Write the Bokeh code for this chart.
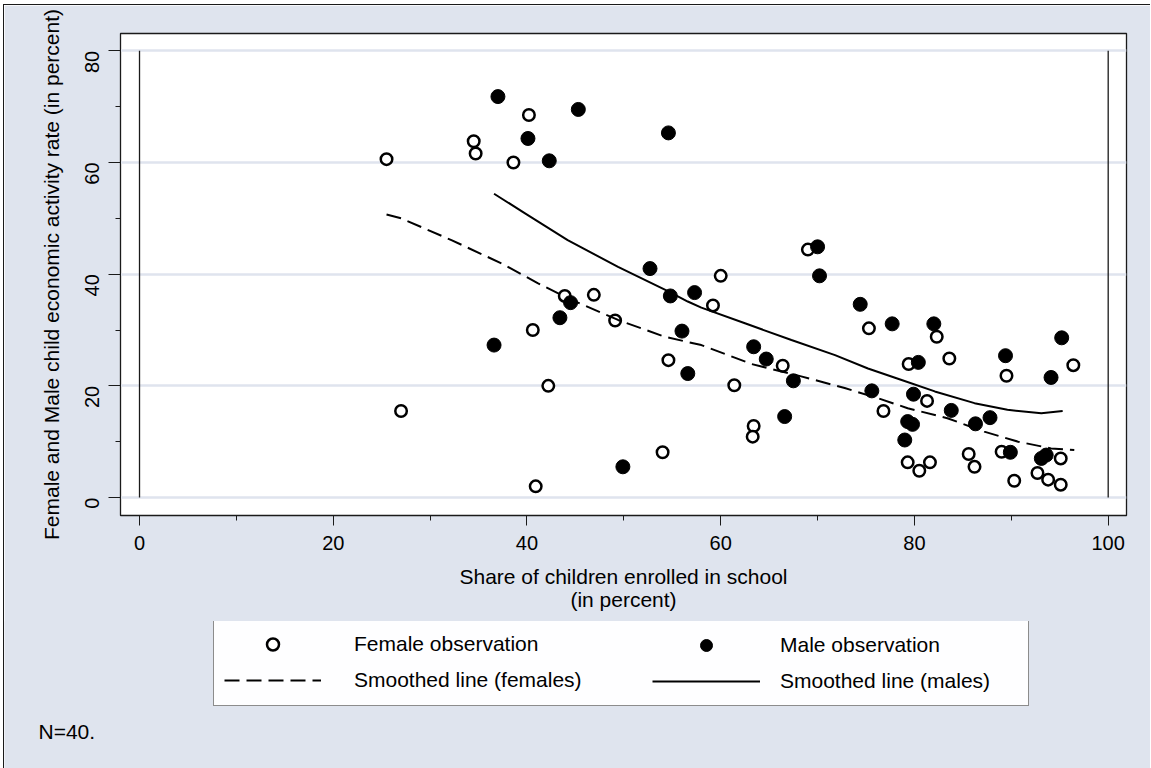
import math
from bokeh.plotting import figure
from bokeh.models import Range1d, FixedTicker, Legend, LegendItem, Label
from bokeh.embed import file_html
from bokeh.resources import INLINE

# ---- data ----
female_enrol = [25.5, 27.0, 34.5, 34.7, 38.6, 40.2, 40.6, 40.9, 42.2, 43.9,
                46.9, 49.1, 54.0, 54.6, 59.2, 60.0, 61.4, 63.4, 63.3, 66.4,
                69.0, 75.3, 76.8, 79.4, 79.3, 80.5, 81.3, 81.6, 82.3, 83.6,
                85.6, 86.2, 89.0, 89.5, 90.3, 92.7, 93.8, 95.1, 95.1, 96.4]
female_activity = [60.6, 15.5, 63.8, 61.6, 60.0, 68.5, 30.0, 2.0, 20.0, 36.1,
                   36.3, 31.7, 8.1, 24.6, 34.4, 39.7, 20.1, 12.8, 10.9, 23.6,
                   44.4, 30.3, 15.5, 23.9, 6.3, 4.8, 17.3, 6.3, 28.8, 24.9,
                   7.8, 5.5, 8.2, 21.8, 3.0, 4.4, 3.2, 2.3, 7.0, 23.7]

male_enrol = [36.6, 37.0, 40.1, 42.3, 43.4, 44.5, 45.3, 49.9, 52.7, 54.6,
              54.8, 56.0, 56.6, 57.3, 63.4, 64.7, 66.6, 67.5, 70.0, 70.2,
              74.4, 75.6, 77.7, 79.0, 79.3, 79.8, 79.9, 80.4, 82.0, 83.8,
              86.3, 87.8, 89.4, 89.9, 93.1, 93.6, 94.1, 95.2]
male_activity = [27.3, 71.8, 64.3, 60.3, 32.2, 34.9, 69.5, 5.5, 41.0, 65.3,
                 36.1, 29.8, 22.2, 36.7, 27.0, 24.8, 14.5, 20.9, 44.9, 39.7,
                 34.6, 19.1, 31.1, 10.3, 13.6, 13.1, 18.5, 24.2, 31.1, 15.6,
                 13.2, 14.3, 25.4, 8.1, 7.0, 7.6, 21.5, 28.6]

female_smooth_x = [25.5, 27.0, 32.2, 37.4, 41.1, 44.2, 49.4, 54.2, 58.0, 63.2,
                   68.3, 72.8, 76.2, 79.3, 83.4, 87.2, 90.7, 94.1, 96.5]
female_smooth_y = [50.7, 50.0, 46.1, 41.9, 38.4, 35.7, 31.8, 28.8, 27.3, 23.9,
                   21.7, 19.6, 17.8, 16.0, 14.2, 11.8, 10.0, 8.8, 8.5]

male_smooth_x = [36.6, 39.8, 44.2, 49.4, 54.6, 56.6, 58.0, 62.5, 67.3, 71.8,
                 75.2, 78.6, 82.1, 86.2, 89.6, 93.1, 95.3]
male_smooth_y = [54.4, 50.9, 46.1, 41.3, 36.9, 35.1, 34.0, 31.2, 28.2, 25.5,
                 23.1, 21.1, 19.0, 16.9, 15.7, 15.1, 15.5]

x_ticks = [0, 20, 40, 60, 80, 100]
x_minor = [10, 30, 50, 70, 90]
y_ticks = [0, 20, 40, 60, 80]
y_minor = [10, 30, 50, 70]

ref_line_x = [0, 100]
ref_line_y0 = [0, 0]
ref_line_y1 = [80, 80]

y_title = "Female and Male child economic activity rate (in percent)"
x_title = "Share of children enrolled in school\n(in percent)"
legend_labels = ["Female observation", "Smoothed line (females)",
                 "Male observation", "Smoothed line (males)"]
note = "N=40."

FONT = "Liberation Sans"
BG = "#dfe4ee"
INK = "#1a1a1a"

# ---------------- main plot ----------------
p = figure(width=1147, height=618,
           x_range=Range1d(-1.963, 101.89), y_range=Range1d(-3.22, 83.1),
           output_backend="svg", toolbar_location=None,
           min_border_left=116, min_border_right=25,
           min_border_top=28, min_border_bottom=108,
           background_fill_color="white", border_fill_color=BG,
           outline_line_color=INK, outline_line_width=1.3)
p.styles = {"position": "absolute", "left": "3px", "top": "4px",
            "border-left": "1px solid #1a1a1a", "border-top": "1px solid #1a1a1a"}

p.xaxis.ticker = FixedTicker(ticks=x_ticks, minor_ticks=x_minor)
p.yaxis.ticker = FixedTicker(ticks=y_ticks, minor_ticks=y_minor)
for ax in (p.xaxis, p.yaxis):
    ax.major_tick_in = 0
    ax.minor_tick_in = 0
    ax.minor_tick_out = 5
    ax.axis_line_color = INK
    ax.major_tick_line_color = INK
    ax.minor_tick_line_color = INK
    ax.major_label_text_font = FONT
    ax.major_label_text_font_size = "20px"
    ax.major_label_text_color = "black"
    ax.axis_label_text_font = FONT
    ax.axis_label_text_font_style = "normal"
    ax.axis_label_text_color = "black"
p.xaxis.major_tick_out = 10
p.yaxis.major_tick_out = 12
p.xaxis.major_label_standoff = 10
p.yaxis.major_label_standoff = 16
p.yaxis.major_label_orientation = math.pi / 2
p.yaxis.axis_label = y_title
p.yaxis.axis_label_text_font_size = "21px"
p.yaxis.axis_label_standoff = 13
p.xaxis.axis_label = x_title
p.xaxis.axis_label_text_font_size = "21px"
p.xaxis.axis_label_text_line_height = 1.0
p.xaxis.axis_label_standoff = 12

p.xgrid.visible = False
p.ygrid.ticker = FixedTicker(ticks=y_ticks)
p.ygrid.grid_line_color = BG
p.ygrid.grid_line_width = 2.5

# reference vertical lines at 0 and 100
p.segment(x0=ref_line_x, y0=ref_line_y0, x1=ref_line_x, y1=ref_line_y1,
          line_color=INK, line_width=1.3)

female_style = dict(marker="circle", size=11.5, fill_color="white",
                    line_color="black", line_width=2.5)
male_style = dict(marker="circle", size=14, fill_color="black",
                  line_color="black", line_width=1)
fline_style = dict(line_color="black", line_width=2, line_dash="15 7")
mline_style = dict(line_color="black", line_width=2)

p.scatter(female_enrol, female_activity, **female_style)
p.scatter(male_enrol, male_activity, **male_style)
p.line(female_smooth_x, female_smooth_y, **fline_style)
p.line(male_smooth_x, male_smooth_y, **mline_style)

# ---------------- legend / note strip ----------------
q = figure(width=1147, height=147, x_range=Range1d(0, 1), y_range=Range1d(0, 1),
           output_backend="svg", toolbar_location=None,
           x_axis_type=None, y_axis_type=None,
           min_border_left=0, min_border_right=0, min_border_top=0, min_border_bottom=0,
           background_fill_color=BG, border_fill_color=BG, outline_line_color=None)
q.styles = {"position": "absolute", "left": "3px", "top": "621px",
            "border-left": "1px solid #1a1a1a"}
q.xgrid.visible = False
q.ygrid.visible = False

# legend keys: same series and styles, they fall outside this strip's ranges
kf = q.scatter(female_enrol, female_activity, **female_style)
km = q.scatter(male_enrol, male_activity, **male_style)
kfl = q.line(female_smooth_x, female_smooth_y, **fline_style)
kml = q.line(male_smooth_x, male_smooth_y, **mline_style)

common = dict(margin=0, padding=10, spacing=6, glyph_height=30, label_height=30,
              label_text_font=FONT, label_text_font_size="21px",
              label_text_color="black")
leg1 = Legend(items=[LegendItem(label=legend_labels[0], renderers=[kf]),
                     LegendItem(label=legend_labels[1], renderers=[kfl])],
              location=(209, 62), glyph_width=97, label_standoff=33,
              label_width=664, background_fill_color="white",
              border_line_color=INK, border_line_width=1.2, **common)
leg2 = Legend(items=[LegendItem(label=legend_labels[2], renderers=[km]),
                     LegendItem(label=legend_labels[3], renderers=[kml])],
              location=(638, 62), glyph_width=108, label_standoff=20,
              background_fill_alpha=0, border_line_alpha=0, **common)
q.add_layout(leg1)
q.add_layout(leg2)

q.add_layout(Label(x=34, y=37, x_units="screen", y_units="screen", text=note,
                   text_align="left", text_baseline="middle",
                   text_font=FONT, text_font_size="21px", text_color="black"))

open("out.html", "w").write(file_html((p, q), INLINE))
